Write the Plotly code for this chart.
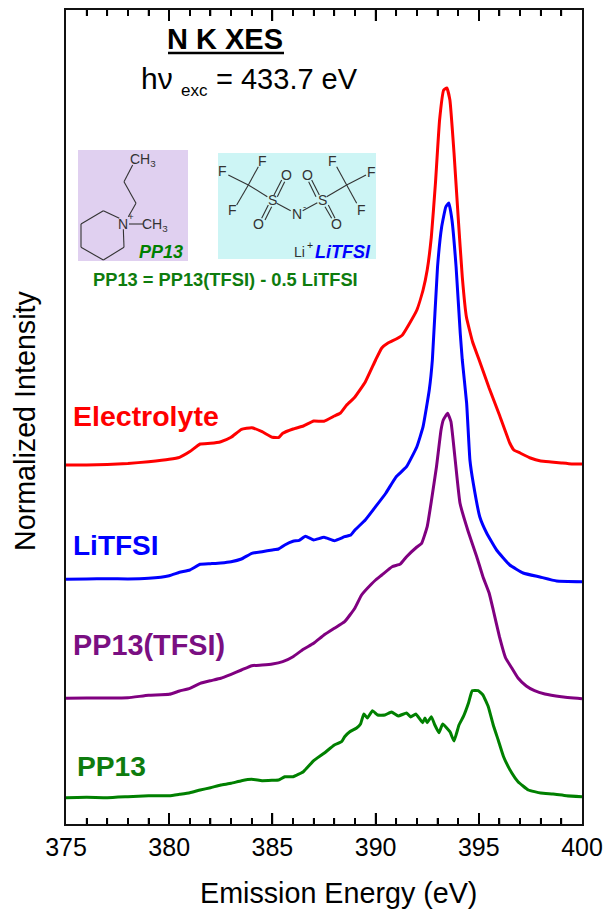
import plotly.graph_objects as go

FONT = "Liberation Sans"
W, H = 607, 912
L, R, T, B = 66, 582, 10, 824

# ---------- data (emission energy in eV, intensity in arbitrary stacked units) ----------
electrolyte_x = [375,376,377,378,379,380,380.5,381,381.5,382,382.5,383,383.5,384,384.5,385,385.3,385.5,386,386.5,387,387.5,388,388.3,388.6,389,389.5,390,390.3,390.6,391,391.3,391.6,392,392.3,392.5,392.7,392.9,393.1,393.3,393.45,393.6,393.8,394,394.2,394.4,394.7,395,395.5,396,396.5,396.7,397,397.5,398,398.5,399,399.5,400]
electrolyte_y = [359,359,359.5,360.5,362.3,364.7,366.7,372.4,380,380.7,382.3,386.7,394.7,396.3,392.3,386.7,386.5,390.7,395,398,403,402.7,408,411,419,427,442,464,476,481,485,489,499,514,534,554,587,641,704,734,736,724,671,607,547,507,482,465,436,409,381,374,371,366,363,362,361,360,360]

litfsi_x = [375,376,377,378,379,380,380.5,381,381.5,382,382.5,383,383.5,384,384.5,385,385.3,385.6,386,386.3,386.6,387,387.5,388,388.5,388.8,389,389.5,390,390.5,390.8,391,391.5,392,392.3,392.6,392.75,393,393.2,393.4,393.55,393.7,393.9,394.1,394.2,394.41,394.57,394.73,395.05,395.38,395.86,396.5,397.15,397.96,398.77,400]
litfsi_y = [244.7,245,245.3,245,245.7,248.3,251.7,254,259.7,260.3,261,262.3,265,270.7,272.3,274,275,279,282.7,283.7,287.7,284,286.7,283.3,287.3,289,294,304,317.3,331,341,347.3,357.3,377.3,397.3,434,464,557,597,617,621,604,557,491,464,421,364,341,307,291,274,259,251,247,243,242.3]

pp13tfsi_x = [375,376,377,378,379,380,380.5,381,381.5,382,382.5,383,383.5,384,384.5,385,385.5,386,386.5,387,387.5,388,388.5,389,389.32,389.8,390,390.3,390.8,391.2,391.5,392,392.23,392.5,392.71,392.95,393.17,393.28,393.49,393.65,393.84,394.09,394.49,394.9,395.2,395.5,395.7,396,396.3,396.6,396.9,397.3,397.7,398.2,399,400]
pp13tfsi_y = [125.7,126,126,126.3,128.7,129.7,133,135.7,140.7,143.3,145.7,149.7,154,158.3,159,160,162.3,167.3,174.7,180.7,189,195.7,202.3,216,229,240,244,249,257.3,260,267.3,277,280.7,297.3,324,357.3,394,404,410.7,402.3,367.3,320.7,292.3,267.3,247.3,231,214,187.3,166,156,146,138,133.3,130,127.3,125.3]

pp13_x = [375,376,377,378,379,380,380.5,381,381.5,382,382.5,383,383.5,384,384.5,385,385.3,385.6,386,386.5,387,387.5,388,388.35,388.5,388.75,389.08,389.27,389.43,389.6,389.85,390.1,390.45,390.77,391.1,391.5,391.7,391.95,392.28,392.39,392.5,392.7,392.87,393.07,393.25,393.6,393.8,394.04,394.25,394.5,394.68,394.97,395.2,395.46,395.7,395.94,396.2,396.6,396.9,397.4,398,398.6,399.25,400]
pp13_y = [26.3,26.7,26.3,27.3,28.3,28.3,29.7,31.3,34,36.3,39,40.7,43.3,44.7,43.3,43.7,44,47.3,47.3,52.3,63.3,70.7,79,82.3,87.3,92.3,96,100,110,106,113.3,109,109,112,108,111,107,110,101.3,106,101.3,107.3,99,91.3,100,92.3,83,99,107.3,121,133.3,133.3,129,117.3,99,84,67.3,51,42.3,34,31,30,28.3,27.3]

series_names = ["Electrolyte", "LiTFSI", "PP13(TFSI)", "PP13"]
major_ticks = [380, 385, 390, 395]
minor_ticks = [376,377,378,379,381,382,383,384,386,387,388,389,391,392,393,394,396,397,398,399]
y_top = 814

RED, BLUE, PURPLE, GREEN = "#FF0000", "#0000FF", "#800080", "#008000"

# ---------- helpers for page-positioned decoration ----------
def px(x): return (x - L) / (R - L)
def py(y): return (B - y) / (B - T)

def text(x, y, s, size, color="#000000", anchor="center", rotate=0):
    return dict(x=px(x), y=py(y), xref="paper", yref="paper", text=s, showarrow=False,
                xanchor=anchor, yanchor="middle", textangle=rotate,
                font=dict(family=FONT, size=size, color=color))

def zoom_xy(zx, zy):  # structure sketch coordinates: crop pixels at 3x from (60,0)
    return 60 + zx / 3, zy / 3

def bond(a, b, color="#333333", width=1.1):
    x0, y0 = zoom_xy(*a); x1, y1 = zoom_xy(*b)
    return dict(type="line", xref="paper", yref="paper", x0=px(x0), y0=py(y0), x1=px(x1), y1=py(y1),
                line=dict(color=color, width=width), layer="above")

def box(x0, y0, x1, y1, color):
    return dict(type="rect", xref="paper", yref="paper", x0=px(x0), y0=py(y0), x1=px(x1), y1=py(y1),
                fillcolor=color, line=dict(width=0), layer="below")

pp13_bonds = [((178,655),(130,632)),((130,632),(63,672)),((63,672),(63,742)),((63,742),(130,780)),
              ((130,780),(192,742)),((192,742),(190,688)),((205,650),(228,610)),((228,610),(192,545)),
              ((192,545),(218,495)),((207,672),(250,672))]
tfsi_bonds = [((565,555),(595,500)),((505,525),(565,555)),((565,555),(530,615)),((565,555),(622,590)),
              ((642,585),(665,540)),((652,590),(674,545)),((625,615),(605,655)),((635,620),(615,660)),
              ((650,610),(692,632)),((728,632),(772,608)),((778,585),(755,540)),((768,590),(746,545)),
              ((795,620),(815,655)),((805,615),(825,655)),((800,590),(860,555)),((860,555),(830,500)),
              ((860,555),(918,525)),((860,555),(890,610))]

shapes = [box(78, 150, 188, 261, "#E0D0F0"), box(218, 153, 376, 259, "#CDF5F5"),
          dict(type="line", xref="paper", yref="paper", x0=px(168), x1=px(284), y0=py(53), y1=py(53),
               line=dict(color="#000000", width=2.5))]
shapes += [bond(a, b) for a, b in pp13_bonds + tfsi_bonds]

atoms = [(250,480,"CH<sub>3</sub>"),(190,672,"N"),(286,674,"CH<sub>3</sub>"),(213,648,"<sup>+</sup>"),
         (606,482,"F"),(488,513,"F"),(518,630,"F"),(637,600,"S"),(680,525,"O"),(595,672,"O"),
         (710,642,"N"),(733,618,"<sup>-</sup>"),(787,600,"S"),(742,525,"O"),(828,672,"O"),
         (817,482,"F"),(933,515,"F"),(903,630,"F"),(718,755,"Li")]
annotations = [text(*zoom_xy(a, b), s, 14, "#333333") for a, b, s in atoms]
annotations += [
    text(*zoom_xy(750,735), "<sup>+</sup>", 15, "#222222"),
    text(161, 252, "<b><i>PP13</i></b>", 18, GREEN),
    text(343, 252, "<b><i>LiTFSI</i></b>", 18, BLUE),
    text(225, 279, "<b>PP13 = PP13(TFSI) - 0.5 LiTFSI</b>", 18.3, "#0E7C0E"),
    text(225, 39, "<b>N K XES</b>", 29),
    text(157, 79, "hν", 30),
    text(194, 91, "exc", 17),
    text(287, 79, "= 433.7 eV", 29),
    text(71, 416, "<b>Electrolyte</b>", 28.5, RED, "left"),
    text(71, 545, "<b>LiTFSI</b>", 28, BLUE, "left"),
    text(71, 645, "<b>PP13(TFSI)</b>", 28.8, "#7A0F82", "left"),
    text(75, 766, "<b>PP13</b>", 28.2, "#0E7C0E", "left"),
    text(338, 893, "Emission Energy (eV)", 28.7),
    text(25, 421, "Normalized Intensity", 28.7, rotate=-90),
]

fig = go.Figure()
for name, xs, ys, col in zip(series_names,
                             [electrolyte_x, litfsi_x, pp13tfsi_x, pp13_x],
                             [electrolyte_y, litfsi_y, pp13tfsi_y, pp13_y],
                             [RED, BLUE, PURPLE, GREEN]):
    fig.add_trace(go.Scatter(x=xs, y=ys, mode="lines", name=name,
                             line=dict(color=col, width=3, shape="spline", smoothing=0.35)))

# inward ticks on the bottom and top edges, drawn through the same axes as the curves
for values, length in ((major_ticks, 11), (minor_ticks, 6)):
    tx, ty = [], []
    for v in values:
        tx += [v, v, None, v, v, None]
        ty += [0, length, None, y_top, y_top - length, None]
    fig.add_trace(go.Scatter(x=tx, y=ty, mode="lines", hoverinfo="skip", showlegend=False,
                             line=dict(color="#000000", width=1.6)))

fig.update_layout(
    width=W, height=H, showlegend=False, paper_bgcolor="white", plot_bgcolor="white",
    margin=dict(l=L, r=W - R, t=T, b=H - B, autoexpand=False),
    shapes=shapes, annotations=annotations,
    font=dict(family=FONT, color="#000000"),
    xaxis=dict(range=[375, 400], tick0=375, dtick=5, ticks="inside", ticklen=11, tickwidth=1.6, tickcolor="#000000",
               showline=True, linecolor="#111111", linewidth=2.2, mirror="ticks",
               showgrid=False, zeroline=False, tickfont=dict(size=25, color="#000000"),
               minor=dict(dtick=1, ticks="inside", ticklen=6, tickwidth=1.6, tickcolor="#000000", showgrid=False)),
    yaxis=dict(range=[0, y_top], showticklabels=False, ticks="", showline=True, linecolor="#111111",
               linewidth=2.2, mirror=True, showgrid=False, zeroline=False),
)

fig.write_html("out.html", config=dict(displayModeBar=False),
               post_script="document.body.style.margin='0';document.body.style.overflow='hidden';")
